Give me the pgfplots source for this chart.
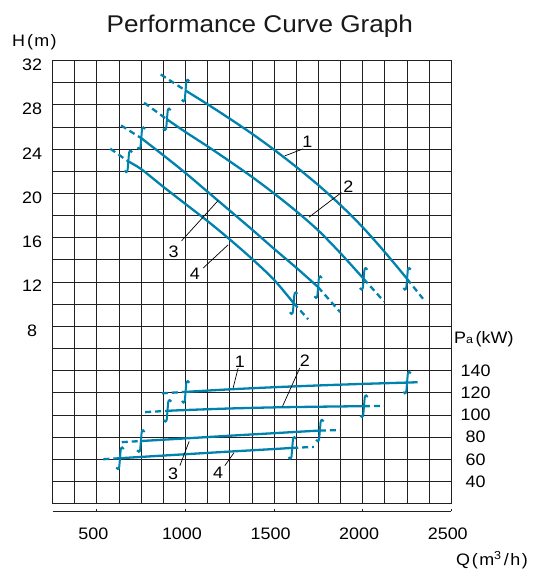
\documentclass[border=0pt]{standalone}
\usepackage{pgfplots}
\pgfplotsset{compat=1.18}
\usepackage{fontspec}
\setmainfont{Liberation Sans}[FakeStretch=1.08]
\definecolor{gridc}{RGB}{35,31,32}
\definecolor{cblue}{RGB}{0,130,174}
\pgfdeclareplotmark{ess}{%
 \pgfpathmoveto{\pgfpoint{1.9pt}{4.6pt}}%
 \pgfpathcurveto{\pgfpoint{1.7pt}{5.7pt}}{\pgfpoint{0.45pt}{5.7pt}}{\pgfpoint{0.35pt}{4.2pt}}%
 \pgfpathlineto{\pgfpoint{-0.35pt}{-4.2pt}}%
 \pgfpathcurveto{\pgfpoint{-0.45pt}{-5.7pt}}{\pgfpoint{-1.7pt}{-5.7pt}}{\pgfpoint{-1.9pt}{-4.6pt}}%
 \pgfusepathqstroke}
\tikzset{solidc/.style={cblue, line width=1.15pt, smooth},
         dashc/.style={cblue, line width=1.15pt, dash pattern=on 3pt off 2pt},
         brk/.style={cblue, only marks, mark=ess, line width=1pt}}
\begin{document}
\begin{tikzpicture}
\begin{scope}[x=0.5pt,y=-0.5pt,shift={(-26.35pt,252pt)}]
\path[use as bounding box] (0,0) rectangle (533,569);
\end{scope}
% ---------- H axis with grid ----------
\begin{axis}[at={(0,0)}, anchor=south west, scale only axis,
  width=199.5pt, height=221.65pt,
  xmin=250, xmax=2500, ymin=-8, ymax=32, clip=false,
  xtick={250,375,500,625,750,875,1000,1125,1250,1375,1500,1625,1750,1875,2000,2125,2250,2375,2500},
  xticklabels={,,500,,,,1000,,,,1500,,,,2000,,,,2500},
  ytick={-8,-6,-4,-2,0,2,4,6,8,10,12,14,16,18,20,22,24,26,28,30,32},
  yticklabels={,,,,,,,,8,,12,,16,,20,,24,,28,,32},
  grid=major, major grid style={gridc, line width=0.5pt},
  axis line style={gridc, line width=0.5pt},
  major tick length=0pt,
  tick label style={font=\fontsize{8.3}{10}\selectfont, text=black},
  xticklabel style={anchor=center, yshift=-15.1pt, xshift=-1.8pt},
  yticklabel style={anchor=center, xshift=-10.25pt, yshift=-2pt},
]
% curve 1
\addplot[dashc] coordinates {(860,30.75) (1000,29.3)};
\addplot[solidc] coordinates {(1000,29.3) (1125,28.05) (1250,26.75) (1375,25.4) (1500,23.95) (1625,22.4) (1750,20.75) (1875,18.95) (2000,16.95) (2125,14.7) (2250,12.3)};
\addplot[dashc] coordinates {(2250,12.3) (2340,10.5)};
% curve 2
\addplot[dashc] coordinates {(766,28.2) (895,26.7)};
\addplot[solidc] coordinates {(895,26.7) (1000,25.55) (1125,24.25) (1250,22.9) (1375,21.5) (1500,20.0) (1625,18.4) (1750,16.65) (1875,14.6) (2005,12.3)};
\addplot[dashc] coordinates {(2005,12.3) (2120,10.25)};
% curve 3
\addplot[dashc] coordinates {(636,26.15) (750,25.0)};
\addplot[solidc] coordinates {(750,25.0) (875,23.45) (1000,21.85) (1125,20.15) (1250,18.45) (1375,16.75) (1500,15.0) (1625,13.3) (1748,11.55)};
\addplot[dashc] coordinates {(1748,11.55) (1872,9.3)};
% curve 4
\addplot[dashc] coordinates {(575,24.05) (677,22.9)};
\addplot[solidc] coordinates {(677,22.9) (750,22.2) (875,20.6) (1000,19.05) (1125,17.5) (1250,15.85) (1375,14.1) (1500,12.2) (1610,10.1)};
\addplot[dashc] coordinates {(1610,10.1) (1692,8.65)};
% brackets
\addplot[brk] coordinates {(1000,29.3) (2250,12.3) (895,26.7) (2005,12.3) (750,25.0) (1748,11.55) (677,22.9) (1610,10.1)};
\end{axis}
% ---------- Pa axis ----------
\begin{axis}[at={(0,0)}, anchor=south west, scale only axis,
  width=199.5pt, height=221.65pt,
  xmin=250, xmax=2500, ymin=20, ymax=420, clip=false,
  axis line style={draw=none},
  xtick=\empty,
  ytick={40,60,80,100,120,140},
  yticklabels={40,60,80,100,120,140},
  yticklabel pos=right,
  major tick length=0pt,
  tick label style={font=\fontsize{8.3}{10}\selectfont, text=black},
  yticklabel style={anchor=center, xshift=12.15pt},
]
% P1
\addplot[dashc] coordinates {(866,119.6) (1000,120.9)};
\addplot[solidc] coordinates {(1000,120.9) (1250,123.2) (1500,125.1) (1750,126.7) (2000,128.1) (2250,129.3) (2310,129.6)};
% P2
\addplot[dashc] coordinates {(772,102.6) (898,103.8)};
\addplot[solidc] coordinates {(898,103.8) (1000,104.5) (1250,105.9) (1500,106.9) (1750,107.5) (2007,108.0)};
\addplot[dashc] coordinates {(2007,108.0) (2120,108.2)};
% P3
\addplot[dashc] coordinates {(640,75.5) (748,76.5)};
\addplot[solidc] coordinates {(748,76.5) (1000,78.9) (1250,81.3) (1500,83.6) (1758,86.0)};
\addplot[dashc] coordinates {(1758,86.0) (1871,86.3)};
% P4
\addplot[dashc] coordinates {(536,60.1) (630,61.0)};
\addplot[solidc] coordinates {(630,61.0) (1000,64.6) (1250,67.0) (1500,69.3) (1602,70.3)};
\addplot[dashc] coordinates {(1602,70.3) (1724,71.2)};
% brackets
\addplot[brk] coordinates {(1000,120.9) (2250,129.3) (898,103.8) (2007,108.0) (748,76.5) (1758,86.0) (630,61.0) (1602,70.3)};
\end{axis}
% ---------- annotations (pixel coordinates of the reference) ----------
\begin{scope}[x=0.5pt,y=-0.5pt,shift={(-26.35pt,252pt)}, every node/.style={font=\fontsize{8.3}{10}\selectfont, inner sep=0pt}]
% separate bottom axis line with ticks
\draw[gridc, line width=0.5pt] (52.7,511.7) -- (451.7,511.7);
\foreach \t in {97.0,185.7,274.4,363.0,451.7} {\draw[gridc, line width=0.5pt] (\t,511.7) -- (\t,509.2);}
\node[anchor=base, font=\fontsize{12.1}{14}\selectfont, text=black!90] at (260,32.3) {Performance Curve Graph};
\node[anchor=base west] at (11.7,46.7) {H\hspace{0.12em}(\hspace{0.08em}m\hspace{0.08em})};
\node[anchor=base west] at (454,344) {P{\fontsize{5.8}{7}\selectfont a}\,(kW)};
\node[anchor=base west] at (456,566) {Q\hspace{0.12em}(\hspace{0.08em}m\textsuperscript{3}\hspace{0.1em}/\hspace{0.1em}h\hspace{0.08em})};
% H curve labels
\draw[black, line width=0.35pt] (285,156) -- (303.3,149);
\node at (307.5,141.7) {1};
\draw[black, line width=0.35pt] (309.3,217.3) -- (341.7,192.7);
\node at (348.7,186.7) {2};
\draw[black, line width=0.35pt] (181.7,241) -- (218.3,200.7);
\node at (173.7,251.7) {3};
\draw[black, line width=0.35pt] (203.3,268.3) -- (228.3,245);
\node at (195,274.5) {4};
% Pa curve labels
\draw[black, line width=0.35pt] (233.3,388.3) -- (238.3,368.3);
\node at (240,362) {1};
\draw[black, line width=0.35pt] (282.7,406.7) -- (300,368.3);
\node at (305,361) {2};
\draw[black, line width=0.35pt] (180,466) -- (189.3,441.7);
\node at (173.3,473.7) {3};
\draw[black, line width=0.35pt] (225,466) -- (234,453.3);
\node at (218.3,473.3) {4};
\end{scope}
\end{tikzpicture}
\end{document}
